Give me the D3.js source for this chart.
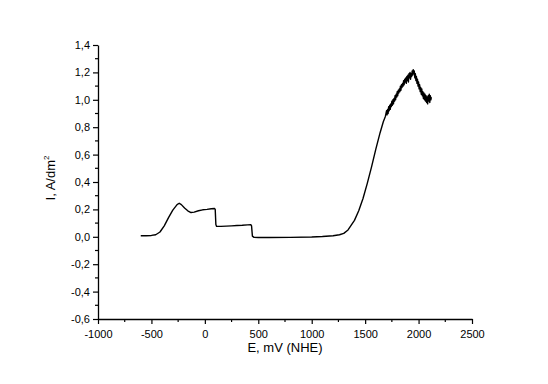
<!DOCTYPE html>
<html>
<head>
<meta charset="utf-8">
<script src="https://d3js.org/d3.v7.min.js"></script>
<style>
  body { margin: 0; background: #fff; }
  text { font-family: "Liberation Sans", Arial, sans-serif; }
</style>
</head>
<body>
<div id="chart"></div>
<script>
// potential, mV (NHE)
const potential = [
  -600, -550, -500, -460, -420, -380, -340, -300, -260, -240, -220, -190, -160, -130, -100,
  -60, -20, 20, 60, 90, 97, 103, 110, 150, 200, 250, 300, 350, 400, 430, 437, 445, 460,
  500, 600, 800, 1000, 1100, 1200, 1260, 1300, 1340, 1370, 1400, 1440, 1480, 1520, 1560,
  1600, 1640, 1670, 1690,
  1700, 1705, 1710, 1715, 1720, 1725, 1730, 1735, 1740, 1745, 1750, 1755, 1760, 1765,
  1770, 1775, 1780, 1785, 1790, 1795, 1800, 1805, 1810, 1815, 1820, 1825, 1830, 1835,
  1840, 1845, 1850, 1855, 1860, 1865, 1870, 1875, 1880, 1885, 1890, 1895, 1900, 1905,
  1910, 1915, 1920, 1925, 1930, 1935, 1940, 1945, 1950, 1955, 1960, 1965, 1970, 1975,
  1980, 1985, 1990, 1995, 2000, 2005, 2010, 2015, 2020, 2025, 2030, 2035, 2040, 2045,
  2050, 2055, 2060, 2065, 2070, 2075, 2080, 2085, 2090, 2095, 2100, 2105, 2110, 2115, 2120
];
// current density, A/dm2
const current = [
  0.008, 0.008, 0.010, 0.015, 0.035, 0.080, 0.140, 0.195, 0.235, 0.245, 0.235, 0.210, 0.190, 0.177, 0.180,
  0.190, 0.197, 0.200, 0.205, 0.207, 0.200, 0.090, 0.076, 0.076, 0.078, 0.080, 0.082, 0.084, 0.087, 0.089, 0.080, 0.005, -0.004,
  -0.005, -0.005, -0.004, -0.002, 0.002, 0.008, 0.015, 0.025, 0.050, 0.085, 0.120, 0.190, 0.280, 0.390, 0.510,
  0.640, 0.760, 0.840, 0.880,
  0.920, 0.890, 0.930, 0.900, 0.950, 0.920, 0.960, 0.930, 0.970, 0.950, 0.990, 0.960, 1.000, 0.970,
  1.010, 0.990, 1.030, 1.000, 1.040, 1.020, 1.060, 1.030, 1.070, 1.050, 1.080, 1.060, 1.100, 1.070,
  1.110, 1.090, 1.120, 1.100, 1.140, 1.110, 1.150, 1.130, 1.160, 1.120, 1.170, 1.140, 1.180, 1.130,
  1.190, 1.160, 1.200, 1.150, 1.190, 1.170, 1.210, 1.180, 1.220, 1.190, 1.210, 1.160, 1.190, 1.140,
  1.170, 1.120, 1.150, 1.100, 1.130, 1.080, 1.110, 1.060, 1.090, 1.040, 1.080, 1.030, 1.060, 1.010,
  1.050, 1.000, 1.040, 0.990, 1.030, 0.980, 1.020, 0.970, 1.030, 0.990, 1.040, 0.980, 1.030, 1.000, 1.020
];
const xTicks = [-1000, -500, 0, 500, 1000, 1500, 2000, 2500];
const yTicks = [-0.6, -0.4, -0.2, 0.0, 0.2, 0.4, 0.6, 0.8, 1.0, 1.2, 1.4];

const width = 548, height = 384;
const margin = { left: 98, right: 76, top: 45, bottom: 65 };

const svg = d3.select("#chart").append("svg")
  .attr("width", width)
  .attr("height", height);

const x = d3.scaleLinear().domain([-1000, 2500]).range([margin.left, width - margin.right]);
const y = d3.scaleLinear().domain([-0.6, 1.4]).range([height - margin.bottom, margin.top]);

const comma = d => d3.format(".1f")(d).replace(".", ",").replace("−", "-");

// minor ticks (half steps)
const xMinor = d3.range(-750, 2500, 500);
const yMinor = d3.range(-0.5, 1.4, 0.2);

const xAxis = svg.append("g")
  .attr("transform", `translate(0,${height - margin.bottom})`)
  .call(d3.axisBottom(x).tickValues(xTicks).tickSize(5).tickSizeOuter(0).tickPadding(6)
    .tickFormat(d => String(d)));
const yAxis = svg.append("g")
  .attr("transform", `translate(${margin.left},0)`)
  .call(d3.axisLeft(y).tickValues(yTicks).tickSize(5).tickSizeOuter(0).tickPadding(3)
    .tickFormat(comma));

[xAxis, yAxis].forEach(g => {
  g.select(".domain").attr("stroke", "#000").attr("stroke-width", 1.3);
  g.selectAll(".tick line").attr("stroke", "#000").attr("stroke-width", 1.2);
  g.selectAll(".tick text").attr("font-size", 11).attr("fill", "#000")
    .style("font-family", "'Liberation Sans', Arial, sans-serif");
});

svg.append("g").selectAll("line").data(xMinor).join("line")
  .attr("x1", d => x(d)).attr("x2", d => x(d))
  .attr("y1", height - margin.bottom).attr("y2", height - margin.bottom + 3)
  .attr("stroke", "#000").attr("stroke-width", 1.2);
svg.append("g").selectAll("line").data(yMinor).join("line")
  .attr("y1", d => y(d)).attr("y2", d => y(d))
  .attr("x1", margin.left).attr("x2", margin.left - 3)
  .attr("stroke", "#000").attr("stroke-width", 1.2);

// curve
const pts = potential.map((e, i) => [e, current[i]]);
svg.append("path")
  .datum(pts)
  .attr("fill", "none")
  .attr("stroke", "#000")
  .attr("stroke-width", 1.4)
  .attr("stroke-linejoin", "round")
  .attr("d", d3.line().x(d => x(d[0])).y(d => y(d[1])));

// axis titles
svg.append("text")
  .attr("x", (margin.left + width - margin.right) / 2)
  .attr("y", 352)
  .attr("text-anchor", "middle")
  .attr("font-size", 13)
  .text("E, mV (NHE)");

const yl = svg.append("text")
  .attr("transform", "translate(55,178) rotate(-90)")
  .attr("text-anchor", "middle")
  .attr("font-size", 13);
yl.append("tspan").text("I, A/dm");
yl.append("tspan").attr("font-size", 8).attr("dy", -6).text("2");
</script>
</body>
</html>
